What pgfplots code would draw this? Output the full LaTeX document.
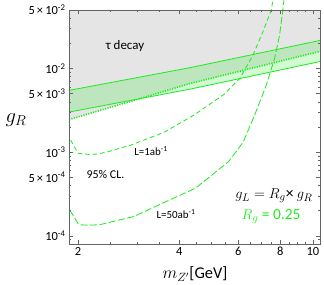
\documentclass[border=0pt]{standalone}
\usepackage{fontspec}
\setmainfont{Carlito}
\usepackage{pgfplots}
\pgfplotsset{compat=1.18}
\definecolor{lgreen}{RGB}{35,235,35}
\definecolor{framegray}{RGB}{100,100,100}
\definecolor{taugray}{RGB}{229,229,229}
\begin{document}
\begin{tikzpicture}
\begin{axis}[
  at={(0,0)}, anchor=south west,
  scale only axis, width=251bp, height=234bp,
  xmode=log, ymode=log,
  xmin=1.88, xmax=10.5, ymin=8e-5, ymax=5e-2,
  axis on top, clip=false,
  xtick={2,4,6,8,10}, xticklabels={2,4,6,8,10},
  minor xtick={2.5,3,3.5,4.5,5,5.5,6.5,7,7.5,8.5,9,9.5},
  ytick={1e-4,5e-4,1e-3,5e-3,1e-2,5e-2},
  yticklabels={10\textsuperscript{-4},5\,×\,10\textsuperscript{-4},10\textsuperscript{-3},5\,×\,10\textsuperscript{-3},10\textsuperscript{-2},5\,×\,10\textsuperscript{-2}},
  minor ytick={9e-5,2e-4,3e-4,4e-4,6e-4,7e-4,8e-4,9e-4,2e-3,3e-3,4e-3,6e-3,7e-3,8e-3,9e-3,2e-2,3e-2,4e-2},
  tick pos=both, ticklabel pos=left,
  tick align=inside,
  major tick length=4bp, minor tick length=2bp,
  every tick/.style={framegray, line width=0.5bp},
  axis line style={framegray, line width=0.7bp},
  tick label style={font=\fontsize{12.5}{12.5}\selectfont},
]
% tau decay excluded region (above dotted line)
\addplot[draw=none, fill=taugray] coordinates {(1.88,2.45e-3) (3.0,4.27e-3) (4.3,6.6e-3) (6.5,9.95e-3) (10.5,1.6e-2) (10.5,5e-2) (1.88,5e-2)} -- cycle;
% green band
\addplot[draw=none, fill=lgreen, fill opacity=0.2] coordinates {(1.88,5.47e-3) (4.3,1.02e-2) (10.5,2.16e-2) (10.5,1.21e-2) (4.3,5.65e-3) (1.88,3.01e-3)} -- cycle;
\addplot[lgreen, line width=0.85bp] coordinates {(1.88,5.47e-3) (4.3,1.02e-2) (10.5,2.16e-2)};
\addplot[lgreen, line width=0.85bp] coordinates {(1.88,3.01e-3) (4.3,5.65e-3) (10.5,1.21e-2)};
\addplot[lgreen, line width=1.6bp, dash pattern=on 1.2bp off 1.3bp] coordinates {(1.88,2.45e-3) (3.0,4.27e-3) (4.3,6.6e-3) (6.5,9.95e-3) (10.5,1.6e-2)};
% L = 1 ab^-1
\addplot[lgreen, line width=0.85bp, dash pattern=on 4.5bp off 3bp] coordinates {(1.90,1.40e-3) (2.0,9.7e-4) (2.15,9.4e-4) (2.29,9.5e-4) (2.45,1.01e-3) (2.88,1.22e-3) (3.61,1.73e-3) (4.43,2.78e-3) (5.41,4.82e-3) (6.06,7.6e-3) (6.63,1.44e-2) (7.10,2.74e-2) (7.52,4.98e-2) (7.6,6.5e-2)};
% L = 50 ab^-1
\addplot[lgreen, line width=0.85bp, dash pattern=on 7bp off 2.5bp] coordinates {(1.89,2.04e-4) (2.01,1.36e-4) (2.15,1.34e-4) (2.32,1.36e-4) (2.93,1.70e-4) (3.57,2.46e-4) (4.47,3.70e-4) (5.61,7.7e-4) (6.21,1.33e-3) (6.71,2.78e-3) (7.27,6.34e-3) (7.69,1.31e-2) (7.96,2.5e-2) (8.14,4.98e-2) (8.2,6.5e-2)};
\end{axis}
\node[font=\fontsize{13}{13}\selectfont] at (56bp,198bp) {τ decay};
\node[font=\fontsize{12}{12}\selectfont] at (36.5bp,69.5bp) {95\% CL.};
\node[font=\fontsize{11}{11}\selectfont] at (82bp,93bp) {L=1ab\textsuperscript{-1}};
\node[font=\fontsize{11}{11}\selectfont] at (107bp,30bp) {L=50ab\textsuperscript{-1}};
\node[font=\fontsize{15.5}{15.5}\selectfont] at (205bp,48bp) {$g_L = R_g$× $g_R$};
\node[font=\fontsize{15.5}{15.5}\selectfont, text=lgreen] at (202bp,27bp) {$R_g$ = 0.25};
\node[font=\fontsize{22}{22}\selectfont] at (-53bp,124bp) {$g_R$};
\node[font=\fontsize{16.5}{16.5}\selectfont] at (126bp,-30bp) {$m_{Z'}$[GeV]};
\path[use as bounding box] (-69bp,-39bp) rectangle (255bp,242bp);
\end{tikzpicture}
\end{document}
